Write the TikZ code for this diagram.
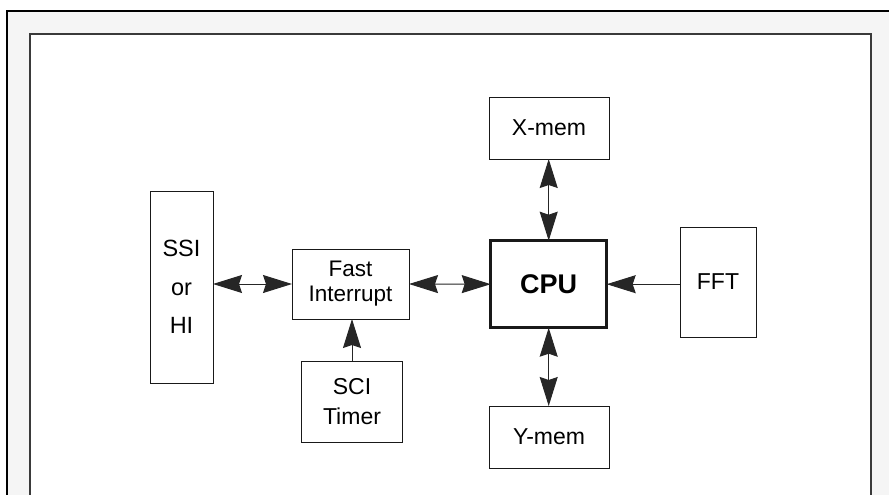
\documentclass[tikz,border=0pt]{standalone}
\usepackage{fontspec}
\setmainfont{Liberation Sans}
\usetikzlibrary{arrows.meta}
\definecolor{framegrey}{HTML}{F5F5F5}
\definecolor{linegrey}{HTML}{3A3A3A}
\begin{document}
\begin{tikzpicture}[x=1pt,y=-1pt,
  blk/.style={draw=black!90, line width=1pt, fill=white, inner sep=0pt, outer sep=0pt, align=center,
    font=\fontsize{23}{26}\selectfont},
  tipS/.tip={Stealth[length=29pt,width=18pt,inset=3pt]},
  arr/.style={line width=1pt, draw=black!85, -tipS},
  darr/.style={line width=1pt, draw=black!85, tipS-tipS}]
\useasboundingbox (0,0) rectangle (889,495);
\clip (0,0) rectangle (889,495);
% frames
\draw[line width=2.5pt, fill=framegrey] (7,11) rectangle (930,530);
\draw[line width=1.6pt, draw=linegrey, fill=white] (30,34) rectangle (871,530);
% blocks
\node[blk, minimum width=63pt, minimum height=192pt, font=\fontsize{23.5}{38.5}\selectfont] (ssi) at (181.5,287) {SSI\\or\\HI};
\node[blk, minimum width=117pt, minimum height=70pt, font=\fontsize{22.5}{25}\selectfont] (fi) at (350.5,284) {Fast\\Interrupt};
\node[blk, minimum width=101pt, minimum height=81pt, font=\fontsize{23}{29.5}\selectfont] (sci) at (352,401.5) {SCI\\Timer};
\node[blk, line width=2.5pt, minimum width=116pt, minimum height=87pt, font=\fontsize{27}{30}\selectfont\bfseries] (cpu) at (548.7,284.2) {CPU};
\node[blk, minimum width=120pt, minimum height=62pt] (xmem) at (549,128) {X-mem};
\node[blk, minimum width=120pt, minimum height=62pt] (ymem) at (549,437) {Y-mem};
\node[blk, minimum width=76pt, minimum height=110pt] (fft) at (718,282) {FFT};
% connectors
\draw[darr] (ssi.east |- fi.west) -- (fi.west);
\draw[darr] (fi.east) -- (cpu.west);
\draw[arr] (sci.north) -- (sci.north |- fi.south);
\draw[darr] (xmem.south -| cpu.north) -- (cpu.north);
\draw[darr] (cpu.south) -- (ymem.north -| cpu.south);
\draw[arr] (fft.west |- cpu.east) -- (cpu.east);
\end{tikzpicture}
\end{document}
